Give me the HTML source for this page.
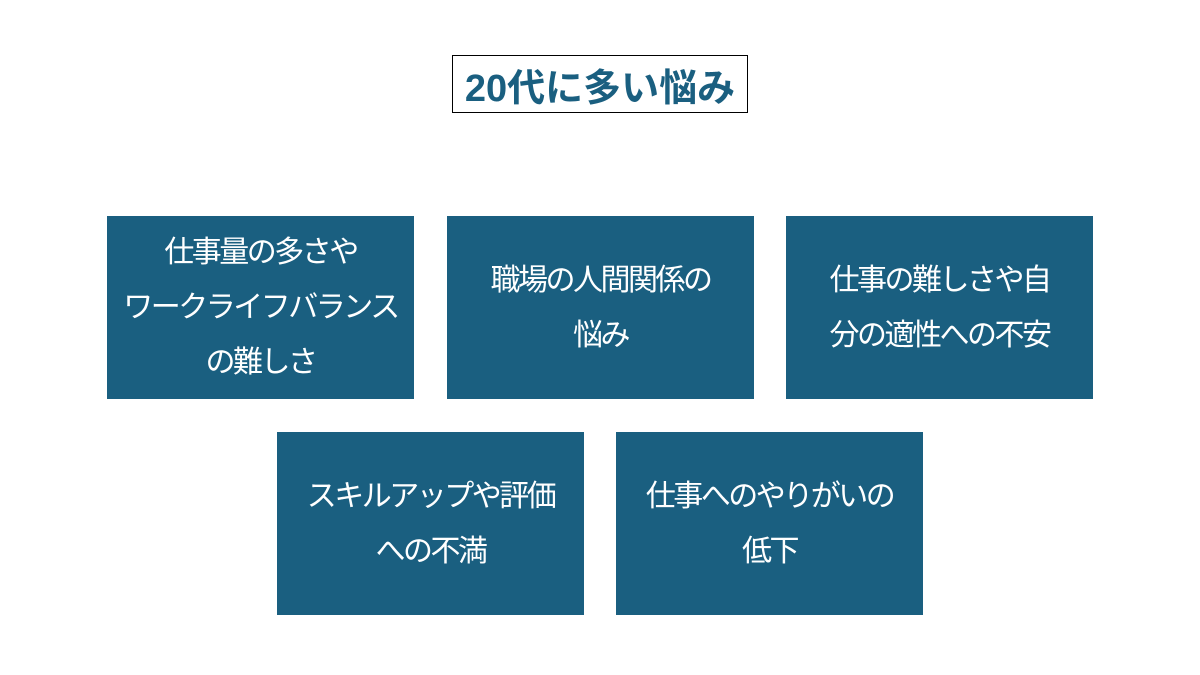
<!DOCTYPE html>
<html><head><meta charset="utf-8"><style>
body{margin:0;width:1200px;height:675px;background:#fff;position:relative;overflow:hidden;font-family:"Liberation Sans","Noto Sans CJK JP",sans-serif;}
.t{position:absolute;left:452px;top:55px;width:294px;height:56px;border:1px solid #000;color:#1a5f80;font-weight:bold;font-size:38px;display:flex;align-items:center;justify-content:center;}
.b{position:absolute;width:307px;height:183px;background:#1a5f80;color:#fff;font-size:30px;letter-spacing:-2.5px;line-height:55px;display:flex;align-items:center;justify-content:center;text-align:center;}
</style></head><body>
<div class="t">20代に多い悩み</div>
<div class="b" style="left:107px;top:216px">仕事量の多さや<br>ワークライフバランス<br>の難しさ</div>
<div class="b" style="left:447px;top:216px">職場の人間関係の<br>悩み</div>
<div class="b" style="left:786px;top:216px">仕事の難しさや自<br>分の適性への不安</div>
<div class="b" style="left:277px;top:432px">スキルアップや評価<br>への不満</div>
<div class="b" style="left:616px;top:432px">仕事へのやりがいの<br>低下</div>
</body></html>
